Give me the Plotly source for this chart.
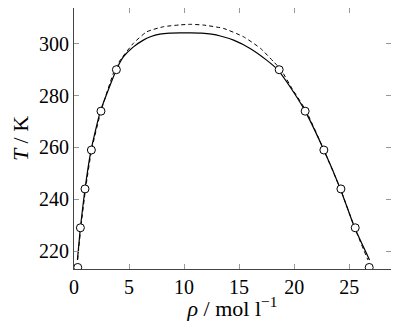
import plotly.graph_objects as go

# experimental saturation points
rho_exp = [0.34, 0.58, 1.0, 1.58, 2.45, 3.85, 18.64, 21.0, 22.7, 24.25, 25.55, 26.82]
T_exp = [213.7, 229, 244, 259, 274, 290, 290, 274, 259, 244, 229, 213.7]

# model 1 (solid)
rho_solid = [0.31, 0.58, 1.0, 1.55, 2.4, 3.85, 4.5, 5.4, 6.3, 7.0, 7.8, 8.7, 9.6, 10.6,
             11.6, 12.5, 13.3, 14.5, 16.0, 17.5, 18.5, 20.0, 21.0, 22.7, 24.2, 25.5, 26.85]
T_solid = [216.6, 229, 244, 259, 274, 290, 295.0, 298.8, 301.4, 302.8, 303.7, 304.1, 304.2, 304.2,
           304.1, 303.7, 303.0, 301.4, 298.2, 293.7, 290, 281, 274, 259, 244, 229, 216.6]

# model 2 (dashed)
rho_dash = [0.33, 0.62, 1.05, 1.6, 2.45, 3.7, 4.2, 5.4, 6.6, 8.15, 9.7, 10.6,
            11.8, 13.6, 15.4, 16.95, 18.15, 18.8, 19.8, 21.1, 22.7, 24.2, 25.5, 26.7]
T_dash = [216.6, 229, 244, 259, 274, 290, 293.7, 300.2, 304.6, 306.6, 307.3, 307.5,
          307.2, 305.9, 302.7, 298.2, 293.0, 290, 282.8, 274, 259, 244, 229, 216.6]

x_ticks = [0, 5, 10, 15, 20, 25]
x_labels = ["0", "5", "10", "15", "20", "25"]
y_ticks = [220, 240, 260, 280, 300]
y_labels = ["220", "240", "260", "280", "300"]

serif = "Liberation Serif"
tick_font = dict(family=serif, size=20, color="black")
title_font = dict(family=serif, size=22, color="black")

fig = go.Figure()

fig.add_trace(go.Scatter(
    x=rho_dash, y=T_dash, mode="lines",
    line=dict(color="black", width=1, dash="4px,3px", shape="spline", smoothing=0.5),
    showlegend=False,
))
fig.add_trace(go.Scatter(
    x=rho_solid, y=T_solid, mode="lines",
    line=dict(color="black", width=1.2, shape="spline", smoothing=0.5),
    showlegend=False,
))
fig.add_trace(go.Scatter(
    x=rho_exp, y=T_exp, mode="markers",
    marker=dict(symbol="circle", size=8, color="white", line=dict(color="black", width=1)),
    showlegend=False, cliponaxis=True,
))

# page body adds 8px around the figure, so keep it inside the 399x329 window
fig.update_layout(
    width=383, height=313,
    margin=dict(l=66, r=0, t=0, b=52),
    font=dict(family=serif, size=18, color="black"),
    plot_bgcolor="white", paper_bgcolor="white",
    xaxis=dict(
        range=[0, 28.8], tickmode="array", tickvals=x_ticks, ticktext=x_labels,
        automargin=False, showgrid=False, zeroline=False,
        showline=True, linecolor="#444", linewidth=1, mirror="ticks",
        ticks="inside", ticklen=5, tickcolor="#999", tickwidth=1,
        tickfont=tick_font,
        title=dict(text="<i>ρ</i> / mol l<sup>−1</sup>", font=title_font, standoff=6),
    ),
    yaxis=dict(
        range=[213.1, 313.8], tickmode="array", tickvals=y_ticks, ticktext=y_labels,
        automargin=False, showgrid=False, zeroline=False,
        showline=True, linecolor="#444", linewidth=1, mirror="ticks",
        ticks="inside", ticklen=5, tickcolor="#999", tickwidth=1,
        tickfont=tick_font,
        title=dict(text="<i>T</i> / K", font=title_font, standoff=6),
    ),
)

fig.write_html("out.html")
